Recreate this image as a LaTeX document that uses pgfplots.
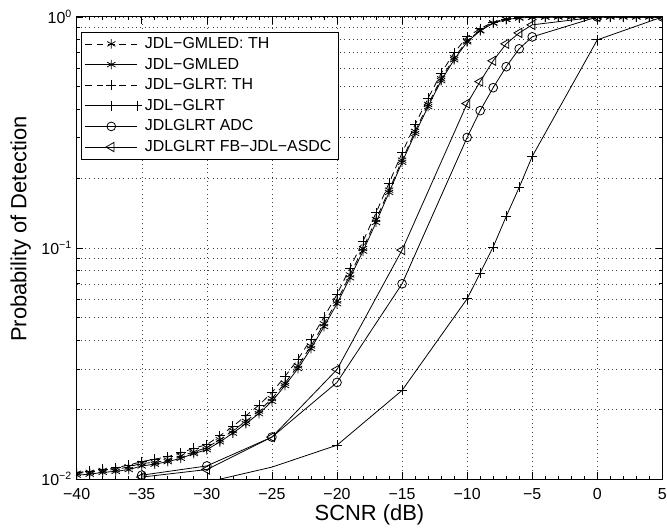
\documentclass[border=0pt]{standalone}
\usepackage{fontspec}
\setmainfont{Liberation Sans}
\usepackage{pgfplots}
\pgfplotsset{compat=1.18}

\begin{document}
\begin{tikzpicture}
% page frame: same proportions as the reference (axis sits at the origin)
\useasboundingbox (-57.75pt,-38.25pt) rectangle (444.5pt,360.75pt);
\begin{axis}[
  at={(0,0)}, anchor=south west,
  scale only axis, width=441pt, height=348pt,
  xmin=-40, xmax=5,
  ymode=log, ymin=0.01, ymax=1,
  xtick={-40,-35,...,5},
  xticklabels={−40,−35,−30,−25,−20,−15,−10,−5,0,5},
  minor x tick num=4,
  ytick={0.01,0.1,1},
  yticklabels={10\textsuperscript{−2},10\textsuperscript{−1},10\textsuperscript{0}},
  minor ytick={0.02,0.03,0.04,0.05,0.06,0.07,0.08,0.09,0.2,0.3,0.4,0.5,0.6,0.7,0.8,0.9},
  xmajorgrids, ymajorgrids, yminorgrids,
  major grid style={black!75, line width=0.4pt, dash pattern=on 0.6pt off 2.6pt},
  minor grid style={black!75, line width=0.4pt, dash pattern=on 0.6pt off 2.6pt},
  major tick length=5pt, minor tick length=2.5pt,
  axis line style={line width=0.8pt},
  tick style={line width=0.5pt, black},
  tick label style={font=\fontsize{12}{14}\selectfont},
  xticklabel style={inner sep=1pt, yshift=-6pt},
  label style={font=\fontsize{16.5}{19}\selectfont},
  xlabel={SCNR (dB)},
  xlabel style={at={(axis description cs:0.5,0)}, anchor=base, inner sep=0pt, yshift=-31pt},
  ylabel={Probability of Detection},
  ylabel style={at={(axis description cs:-0.086,0.541)}, anchor=base},
  clip marker paths=true,
  every axis plot/.append style={black, line width=0.6pt,
    legend image code/.code={
      \draw[mark repeat=2,mark phase=2,##1] plot coordinates {(0pt,0pt) (19.5pt,0pt) (39pt,0pt)};
    }},
  legend style={at={(axis description cs:0.0068,0.968)}, anchor=north west,
    font=\fontsize{12}{14}\selectfont, draw=black, line width=0.5pt,
    row sep=1.65pt, inner xsep=3pt, inner ysep=2pt,
    cells={anchor=west}},
  legend cell align=left,
]
% JDL-GMLED: TH
\addplot[dash pattern=on 5pt off 3.5pt, mark=asterisk, mark size=3.6pt, mark options={solid}] coordinates {
(-40,0.0106)(-39,0.0107)(-38,0.0109)(-37,0.0110)(-36,0.0113)(-35,0.0117)(-34,0.0118)(-33,0.0121)
(-32,0.0126)(-31,0.0131)(-30,0.0137)(-29,0.0148)(-28,0.0162)(-27,0.0178)(-26,0.0197)(-25,0.0223)
(-24,0.0260)(-23,0.0309)(-22,0.0377)(-21,0.0470)(-20,0.0590)(-19,0.0765)(-18,0.0995)(-17,0.133)
(-16,0.178)(-15,0.240)(-14,0.320)(-13,0.418)(-12,0.540)(-11,0.665)(-10,0.790)(-9,0.875)
(-8,0.943)(-7,0.977)(-6,0.990)(-5,0.997)(-4,0.999)(-3,1)(-2,1)(-1,1)(0,1)(1,1)(2,1)(3,1)(4,1)(5,1)};
% JDL-GMLED
\addplot[mark=asterisk, mark size=3.6pt] coordinates {
(-40,0.0104)(-39,0.0105)(-38,0.0107)(-37,0.0108)(-36,0.0110)(-35,0.0114)(-34,0.0116)(-33,0.0119)
(-32,0.0123)(-31,0.0129)(-30,0.0134)(-29,0.0145)(-28,0.0158)(-27,0.0174)(-26,0.0192)(-25,0.0217)
(-24,0.0254)(-23,0.0301)(-22,0.0367)(-21,0.0457)(-20,0.0574)(-19,0.0743)(-18,0.0970)(-17,0.129)
(-16,0.174)(-15,0.235)(-14,0.313)(-13,0.409)(-12,0.530)(-11,0.653)(-10,0.780)(-9,0.870)
(-8,0.940)(-7,0.975)(-6,0.990)(-5,0.996)(-4,0.998)(-3,1)(-2,1)(-1,1)(0,1)(1,1)(2,1)(3,1)(4,1)(5,1)};
% JDL-GLRT: TH
\addplot[dash pattern=on 5pt off 3.5pt, mark=+, mark size=3.8pt, mark options={solid}] coordinates {
(-40,0.0107)(-39,0.0108)(-38,0.0110)(-37,0.0112)(-36,0.0115)(-35,0.0119)(-34,0.0122)(-33,0.0125)
(-32,0.0130)(-31,0.0136)(-30,0.0141)(-29,0.0154)(-28,0.0169)(-27,0.0188)(-26,0.0209)(-25,0.0237)
(-24,0.0278)(-23,0.0330)(-22,0.0403)(-21,0.0502)(-20,0.0630)(-19,0.0820)(-18,0.107)(-17,0.142)
(-16,0.191)(-15,0.258)(-14,0.342)(-13,0.445)(-12,0.570)(-11,0.700)(-10,0.820)(-9,0.890)
(-8,0.950)(-7,0.980)(-6,0.992)(-5,0.998)(-4,1)(-3,1)(-2,1)(-1,1)(0,1)(1,1)(2,1)(3,1)(4,1)(5,1)};
% JDL-GLRT
\addplot[mark=+, mark size=3.8pt, mark indices={2,3,4,5,6,7,8,9,10,11,12}] coordinates {
(-30,0.0097)(-25,0.01127)(-20,0.01402)(-15,0.0242)(-10,0.0603)(-9,0.078)(-8,0.101)(-7,0.137)
(-6,0.183)(-5,0.249)(0,0.796)(5,1)};
% JDLGLRT ADC
\addplot[mark=o, mark size=3.3pt] coordinates {
(-35,0.0104)(-30,0.0114)(-25,0.0152)(-20,0.0262)(-15,0.070)(-10,0.301)(-9,0.393)(-8,0.494)
(-7,0.609)(-6,0.728)(-5,0.820)(0,1)(5,1)};
% JDLGLRT FB-JDL-ASDC
\addplot[mark=triangle, mark size=4pt, mark options={rotate=90}] coordinates {
(-35,0.0102)(-30,0.0110)(-25,0.0152)(-20,0.0298)(-15,0.098)(-10,0.422)(-9,0.525)(-8,0.646)
(-7,0.765)(-6,0.853)(-5,0.924)(0,1)(5,1)};
\legend{JDL−GMLED: TH, JDL−GMLED, JDL−GLRT: TH, JDL−GLRT, JDLGLRT ADC, JDLGLRT FB−JDL−ASDC}
\end{axis}
\end{tikzpicture}
\end{document}
